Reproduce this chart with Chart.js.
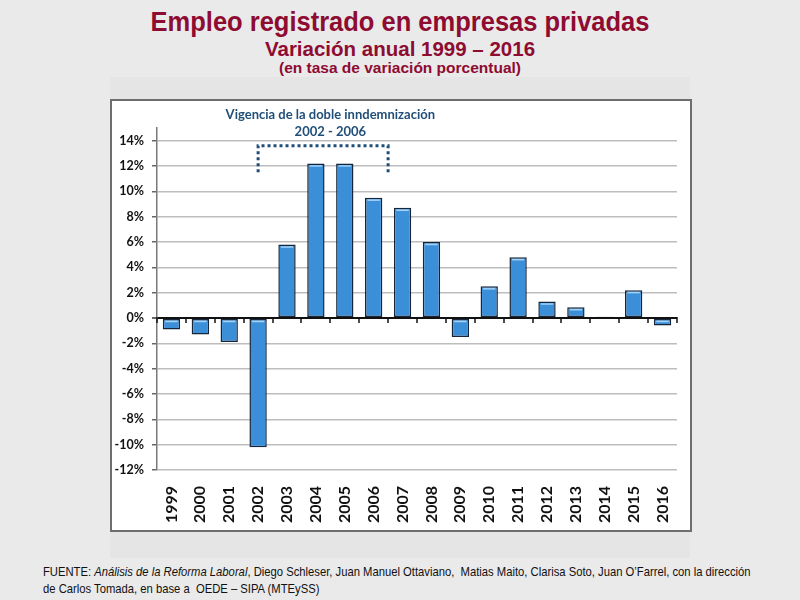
<!DOCTYPE html>
<html>
<head>
<meta charset="utf-8">
<script src="https://cdn.jsdelivr.net/npm/chart.js@4.4.1/dist/chart.umd.min.js"></script>
<style>
  html, body { margin:0; padding:0; }
  body { width:800px; height:600px; background:#eaeaea; position:relative; overflow:hidden; font-family:"Liberation Sans", Arial, sans-serif; }
  .band { position:absolute; left:110px; top:77px; width:580px; height:481px; background:#e5e5e5; }
  .t1, .t2, .t3 { position:absolute; left:0; width:800px; text-align:center; color:#8e0b31; font-weight:bold; white-space:nowrap; }
  .t1 { top:7px; font-size:25.5px; transform:scaleY(1.1); }
  .t2 { top:37px; font-size:20.5px; }
  .t3 { top:59px; font-size:15.5px; }
  .frame { position:absolute; left:110px; top:99px; width:578px; height:429px; background:#fff; border:2px solid #6e6e6e; }
  .frame canvas { display:block; }
  .src { position:absolute; left:43px; top:563px; font-size:13px; line-height:17px; color:#111; white-space:nowrap;
         transform:scaleX(0.865); transform-origin:0 0; }
</style>
</head>
<body>
<div class="band"></div>
<div class="t1">Empleo registrado en empresas privadas</div>
<div class="t2">Variación anual 1999 – 2016</div>
<div class="t3">(en tasa de variación porcentual)</div>
<div class="frame"><canvas id="empleoChart" width="578" height="429"></canvas></div>
<div class="src">FUENTE: <i>Análisis de la Reforma Laboral</i>, Diego Schleser, Juan Manuel Ottaviano,&nbsp; Matias Maito, Clarisa Soto, Juan O’Farrel, con la dirección<br>de Carlos Tomada, en base a&nbsp; OEDE – SIPA (MTEySS)</div>
<script>
// data
const years = ['1999','2000','2001','2002','2003','2004','2005','2006','2007','2008','2009','2010','2011','2012','2013','2014','2015','2016'];
const variacion = [-0.9, -1.3, -1.9, -10.2, 5.8, 12.2, 12.2, 9.5, 8.7, 6.0, -1.5, 2.5, 4.8, 1.3, 0.85, 0.1, 2.2, -0.6];
const yTicks = [-12,-10,-8,-6,-4,-2,0,2,4,6,8,10,12,14];

// "doble indemnización" bracket, in category index / % units
const bracketFrom = 3, bracketTo = 7.5;
const bracketTop = 13.6, bracketBottom = 11.5;
const annoLines = ['Vigencia de la doble inndemnización', '2002 - 2006'];
const annoCenter = 5.5;
const annoY = [16.05, 14.7];

const annoBlue = '#1f4e79';

// tick marks on the zero line + bar highlight + bracket
const extras = {
  id:'extras',
  afterDatasetsDraw(chart){
    const ctx = chart.ctx, x = chart.scales.x, y = chart.scales.y;
    const y0 = y.getPixelForValue(0);

    // light bevel at the top of each bar
    chart.getDatasetMeta(0).data.forEach(bar => {
      const h = Math.abs(bar.base - bar.y);
      if(h < 4) return;
      const top = Math.min(bar.y, bar.base);
      ctx.save();
      ctx.strokeStyle = '#9fd3fa';
      ctx.lineWidth = 1.5;
      ctx.beginPath();
      ctx.moveTo(bar.x - bar.width/2 + 2.5, top + 2.5);
      ctx.lineTo(bar.x + bar.width/2 - 2.5, top + 2.5);
      ctx.stroke();
      ctx.restore();
    });

    // zero axis tick marks at category boundaries
    ctx.save();
    ctx.strokeStyle = '#111';
    ctx.lineWidth = 1.5;
    for(let i = 0; i <= years.length; i++){
      const px = Math.round(x.getPixelForValue(i - 0.5));
      ctx.beginPath();
      ctx.moveTo(px, y0 - 1);
      ctx.lineTo(px, y0 + 5);
      ctx.stroke();
    }
    ctx.restore();

    // dotted bracket
    const xl = x.getPixelForValue(bracketFrom), xr = x.getPixelForValue(bracketTo);
    const yt = y.getPixelForValue(bracketTop), yb = y.getPixelForValue(bracketBottom);
    ctx.save();
    ctx.strokeStyle = annoBlue;
    ctx.lineWidth = 3;
    ctx.setLineDash([3, 3]);
    ctx.beginPath();
    ctx.moveTo(xl, yb);
    ctx.lineTo(xl, yt);
    ctx.lineTo(xr, yt);
    ctx.lineTo(xr, yb);
    ctx.stroke();
    ctx.restore();

    // annotation text
    ctx.save();
    ctx.fillStyle = annoBlue;
    ctx.font = 'bold 13px Lato, "Open Sans", sans-serif';
    ctx.textAlign = 'center';
    ctx.textBaseline = 'middle';
    const cx = x.getPixelForValue(annoCenter);
    annoLines.forEach((t, i) => ctx.fillText(t, cx, y.getPixelForValue(annoY[i])));
    ctx.restore();
  }
};

new Chart(document.getElementById('empleoChart').getContext('2d'), {
  type:'bar',
  data:{ labels: years, datasets:[{
    data: variacion,
    backgroundColor:'#3b8ed8',
    borderColor:'#16263a',
    borderWidth:1.5,
    borderSkipped:false,
    barPercentage:0.6,
    categoryPercentage:1.0
  }]},
  options:{
    responsive:false,
    animation:false,
    layout:{ padding:{ top:27, right:9, bottom:0, left:0 } },
    plugins:{ legend:{display:false}, tooltip:{enabled:false} },
    scales:{
      x:{
        grid:{ display:false },
        border:{ display:false },
        ticks:{ maxRotation:90, minRotation:90, autoSkip:false, padding:8, color:'#111',
                font:{ family:'Lato, "Open Sans", sans-serif', size:16, weight:'bold' } },
        afterFit(s){ s.height = 60; }
      },
      y:{
        min:-12, max:15,
        afterBuildTicks(s){ s.ticks = yTicks.map(v => ({ value:v })); },
        grid:{
          color: c => c.tick && c.tick.value === 0 ? '#111' : '#bdbdbd',
          lineWidth: c => c.tick && c.tick.value === 0 ? 2 : 1.5,
          tickColor:'#666', tickLength:5, drawTicks:true
        },
        border:{ color:'#7a7a7a', width:1.5 },
        ticks:{ padding:8, color:'#111', callback: v => v + '%',
                font:{ family:'Lato, "Open Sans", sans-serif', size:12.5, weight:'bold' } },
        afterFit(s){ s.width = 45; }
      }
    }
  },
  plugins:[extras]
});
</script>
</body>
</html>
